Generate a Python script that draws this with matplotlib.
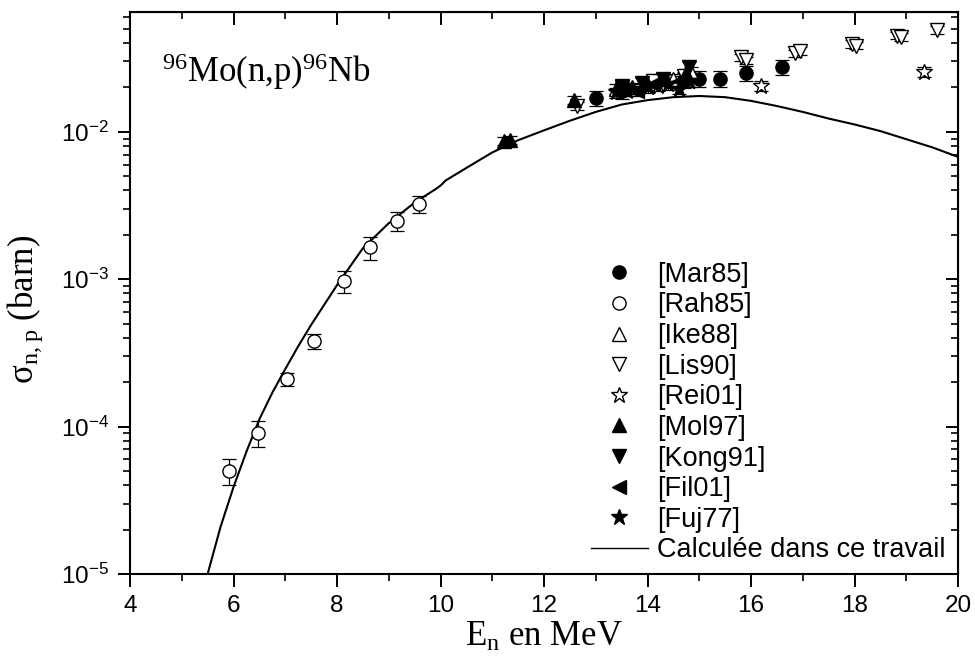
import matplotlib
matplotlib.use("Agg")
import matplotlib.pyplot as plt
import numpy as np
from matplotlib.ticker import LogLocator, MultipleLocator, LogFormatterMathtext, NullFormatter

plt.rcParams['font.family'] = ['Liberation Sans', 'DejaVu Sans']
plt.rcParams['mathtext.default'] = 'regular'

# --- data (energies in MeV, cross sections in barn) ---
mar85_e = [13.0, 13.5, 14.1, 14.7, 15.0, 15.4, 15.9, 16.6]
mar85_s = [1.7e-2, 1.9e-2, 2.2e-2, 2.25e-2, 2.3e-2, 2.3e-2, 2.5e-2, 2.75e-2]
mar85_err = 0.12

rah85_e = [5.91, 6.48, 7.03, 7.56, 8.14, 8.64, 9.15, 9.58]
rah85_s = [5.0e-5, 9.1e-5, 2.1e-4, 3.8e-4, 9.7e-4, 1.65e-3, 2.5e-3, 3.25e-3]
rah85_err = [0.2, 0.2, 0.1, 0.12, 0.17, 0.18, 0.15, 0.13]

ike88_e = [13.4, 13.7, 14.1, 14.5, 14.85]
ike88_s = [1.95e-2, 2.0e-2, 2.15e-2, 2.3e-2, 2.55e-2]
ike88_err = 0.08

lis90_e = [12.64, 13.5, 14.1, 14.7, 15.8, 15.9, 16.85, 16.95, 17.95, 18.02, 18.82, 18.9, 19.6]
lis90_s = [1.5e-2, 2.05e-2, 2.2e-2, 2.4e-2, 3.2e-2, 3.05e-2, 3.4e-2, 3.55e-2, 3.95e-2, 3.85e-2, 4.5e-2, 4.4e-2, 4.9e-2]
lis90_err = 0.06

rei01_e = [13.6, 14.2, 14.8, 16.2, 19.35]
rei01_s = [1.9e-2, 2.05e-2, 2.2e-2, 2.05e-2, 2.55e-2]
rei01_err = 0.08

mol97_e = [11.22, 11.34, 12.58, 13.55, 14.3, 14.75]
mol97_s = [8.7e-3, 8.8e-3, 1.65e-2, 1.95e-2, 2.3e-2, 2.5e-2]
mol97_err = 0.06

kong91_e = [13.5, 13.9, 14.3, 14.8]
kong91_s = [2.0e-2, 2.15e-2, 2.3e-2, 2.75e-2]
kong91_err = 0.08

fil01_e = [13.8, 14.1, 14.6]
fil01_s = [1.9e-2, 2.1e-2, 2.2e-2]
fil01_err = 0.08

fuj77_e = [13.4, 13.7, 14.0, 14.4, 14.6, 14.8]
fuj77_s = [1.85e-2, 1.95e-2, 2.0e-2, 2.1e-2, 1.95e-2, 2.2e-2]
fuj77_err = 0.08

calc_e = [5.5, 5.75, 6.0, 6.25, 6.5, 6.75, 7.0, 7.25, 7.5, 8.0, 8.5, 9.0, 9.5, 9.9,
          10.0, 10.1, 10.5, 11.0, 11.5, 12.0, 12.5, 13.0, 13.5, 14.0, 14.5, 15.0,
          15.5, 16.0, 16.5, 17.0, 17.5, 18.0, 18.5, 19.0, 19.5, 20.0]
calc_log_s = [-5.0, -4.68, -4.41, -4.17, -3.95, -3.77, -3.61, -3.455, -3.31, -3.04,
              -2.79, -2.62, -2.48, -2.39, -2.365, -2.33, -2.245, -2.14, -2.057, -1.99,
              -1.925, -1.865, -1.815, -1.785, -1.765, -1.757, -1.765, -1.79, -1.825,
              -1.865, -1.91, -1.95, -1.995, -2.05, -2.105, -2.17]

fig = plt.figure(figsize=(9.75, 6.6), dpi=100)
ax = fig.add_axes([130 / 975, 1 - 574 / 660, 828 / 975, 562 / 660])

ax.plot(calc_e, 10 ** np.array(calc_log_s), '-', color='k', lw=1.5, zorder=2)

series = [
    (mar85_e, mar85_s, mar85_err, 'o', 'k', '[Mar85]', 9.5),
    (rah85_e, rah85_s, rah85_err, 'o', 'white', '[Rah85]', 9.5),
    (ike88_e, ike88_s, ike88_err, '^', 'white', '[Ike88]', 10),
    (lis90_e, lis90_s, lis90_err, 'v', 'white', '[Lis90]', 10),
    (rei01_e, rei01_s, rei01_err, '*', 'white', '[Rei01]', 12),
    (mol97_e, mol97_s, mol97_err, '^', 'k', '[Mol97]', 10),
    (kong91_e, kong91_s, kong91_err, 'v', 'k', '[Kong91]', 10),
    (fil01_e, fil01_s, fil01_err, '<', 'k', '[Fil01]', 10),
    (fuj77_e, fuj77_s, fuj77_err, '*', 'k', '[Fuj77]', 12),
]

for e, s, rel, mk, fc, lab, ms in series:
    s = np.array(s)
    err = s * np.array(rel)
    ax.errorbar(e, s, yerr=err, fmt='none', ecolor='k', elinewidth=0.9,
                capsize=5, capthick=0.9, zorder=3)
    ax.plot(e, s, mk, ls='none', mfc=fc, mec='k', mew=1.0, ms=ms, label=lab, zorder=4)

ax.plot([], [], '-', color='k', lw=1.0, label='Calculée dans ce travail')

ax.set_yscale('log')
ax.set_xlim(4, 20)
ax.set_ylim(1e-5, 0.065)

ax.xaxis.set_major_locator(MultipleLocator(2))
ax.xaxis.set_minor_locator(MultipleLocator(1))
ax.yaxis.set_major_locator(LogLocator(base=10))
ax.yaxis.set_minor_locator(LogLocator(base=10, subs=np.arange(2, 10)))
ax.yaxis.set_major_formatter(LogFormatterMathtext())
ax.yaxis.set_minor_formatter(NullFormatter())

ax.tick_params(which='major', direction='out', length=9, width=1.4, labelsize=17.5, pad=6)
ax.tick_params(which='minor', direction='out', length=5, width=1.2)
for sp in ax.spines.values():
    sp.set_linewidth(1.5)

# inward ticks on top and right
top = ax.secondary_xaxis('top')
top.xaxis.set_major_locator(MultipleLocator(2))
top.xaxis.set_minor_locator(MultipleLocator(1))
top.tick_params(which='major', direction='in', length=9, width=1.4, labeltop=False)
top.tick_params(which='minor', direction='in', length=5, width=1.2)
right = ax.secondary_yaxis('right')
right.yaxis.set_major_locator(LogLocator(base=10))
right.yaxis.set_minor_locator(LogLocator(base=10, subs=np.arange(2, 10)))
right.tick_params(which='major', direction='in', length=9, width=1.4, labelright=False)
right.tick_params(which='minor', direction='in', length=5, width=1.2)
right.yaxis.set_minor_formatter(NullFormatter())

serif = ['Liberation Serif', 'DejaVu Serif']
ax.set_xlabel('E$_n$ en MeV', family=serif, fontsize=25)
ax.set_ylabel('σ$_{n,p}$ (barn)', family=serif, fontsize=25)
ax.xaxis.set_label_coords(0.5, -0.083)
ax.yaxis.set_label_coords(-0.103, 0.47)

ax.text(0.039, 0.875, '$^{96}$Mo(n,p)$^{96}$Nb', transform=ax.transAxes,
        family=serif, fontsize=25, va='baseline', ha='left')

ax.legend(loc='lower right', bbox_to_anchor=(0.985, 0.019), frameon=False,
          fontsize=19.5, markerscale=1.0, handlelength=2.1, handletextpad=0.35,
          labelspacing=0.17, borderaxespad=0, borderpad=0)

fig.savefig('out.png', dpi=100)
